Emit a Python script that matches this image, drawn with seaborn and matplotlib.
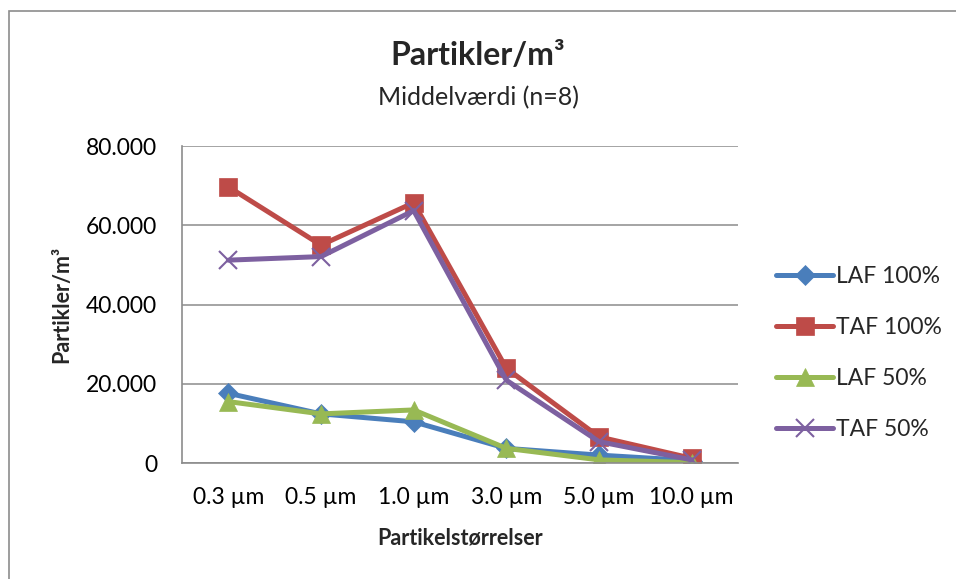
import pandas as pd
import numpy as np
import matplotlib
matplotlib.use("Agg")
import matplotlib.pyplot as plt
import seaborn as sns
from matplotlib.ticker import FuncFormatter
from matplotlib.patches import Rectangle

# Data
sizes = ["0.3 µm", "0.5 µm", "1.0 µm", "3.0 µm", "5.0 µm", "10.0 µm"]
laf_100 = [17600, 12400, 10400, 3700, 2000, 600]
taf_100 = [69700, 55000, 65700, 23900, 6600, 1200]
laf_50 = [15500, 12400, 13400, 3700, 800, 100]
taf_50 = [51200, 52100, 63700, 20900, 5400, 800]

series_names = ["LAF 100%", "TAF 100%", "LAF 50%", "TAF 50%"]
series_values = [laf_100, taf_100, laf_50, taf_50]
colors = ["#4A7EBB", "#BE4B48", "#98B954", "#7D60A0"]
markers = ["D", "s", "^", "x"]
marker_sizes = [10, 13, 13, 13]

rows = []
for name, vals in zip(series_names, series_values):
    for i, v in enumerate(vals):
        rows.append({"Size": sizes[i], "pos": i, "Series": name, "Value": v})
df = pd.DataFrame(rows)

sns.set_style("white")
plt.rcParams["font.family"] = ["Lato", "DejaVu Sans"]

fig = plt.figure(figsize=(9.56, 5.79), dpi=100)
ax = fig.add_axes([0.1904, 0.2003, 0.772 - 0.1904, 0.7478 - 0.2003])

# outer chart border
fig.patches.append(Rectangle((9 / 956, -0.05), 1.0, 1 - 11 / 579 + 0.05,
                             transform=fig.transFigure, fill=False,
                             edgecolor="#8c8c8c", linewidth=1.2))

for name, col, mk, ms in zip(series_names, colors, markers, marker_sizes):
    sub = df[df["Series"] == name]
    sns.lineplot(data=sub, x="pos", y="Value", ax=ax, color=col, linewidth=3.6,
                 marker=mk, markersize=ms, markeredgecolor=col,
                 markeredgewidth=1.5 if mk == "x" else 0.5, label=name)

ax.set_xlim(-0.5, 5.5)
ax.set_ylim(0, 80000)
ax.set_xticks(range(len(sizes)))
ax.set_xticklabels(sizes)
ax.set_yticks([0, 20000, 40000, 60000, 80000])
ax.yaxis.set_major_formatter(FuncFormatter(lambda v, p: f"{int(v):,}".replace(",", ".")))
ax.tick_params(axis="both", labelsize=16.5, colors="black")
ax.tick_params(axis="y", length=5, color="#8c8c8c", pad=13)
ax.tick_params(axis="x", length=0, pad=17)

ax.grid(axis="y", color="#8c8c8c", linewidth=1.1)
ax.set_axisbelow(True)
for s in ["top", "right"]:
    ax.spines[s].set_visible(False)
for s in ["left", "bottom"]:
    ax.spines[s].set_color("#8c8c8c")
    ax.spines[s].set_linewidth(1.2)

ax.set_xlabel("Partikelstørrelser", fontsize=15.5, fontweight="bold", labelpad=14)
ax.set_ylabel("Partikler/m³", fontsize=15.5, fontweight="bold", labelpad=10)

fig.text(0.5, 0.905, "Partikler/m³", ha="center", va="center", fontsize=23, fontweight="bold")
fig.text(0.5, 0.832, "Middelværdi (n=8)", ha="center", va="center", fontsize=18)

leg = ax.legend(loc="center left", bbox_to_anchor=(776 / 956, 1 - 353 / 579),
                bbox_transform=fig.transFigure, frameon=False,
                fontsize=16.5, handlelength=2.5, labelspacing=1.3, handletextpad=0.1,
                borderaxespad=0, borderpad=0)

fig.savefig("out.png", dpi=100)
